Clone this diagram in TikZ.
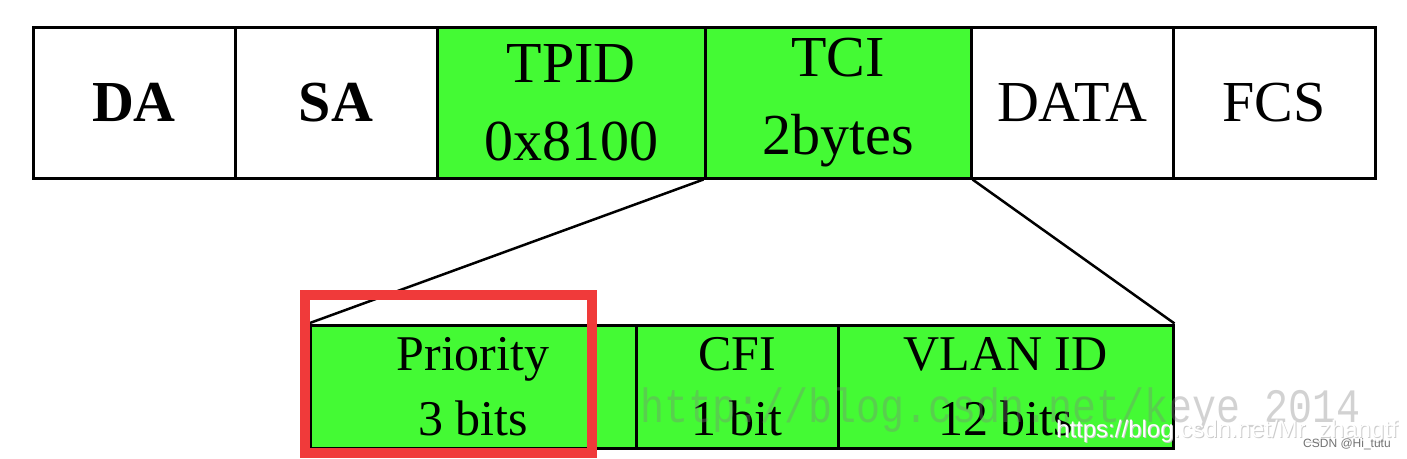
\documentclass[tikz,border=0pt]{standalone}
\usepackage{fontspec}
\setmainfont{Liberation Serif}
\newfontfamily\wmmono{Liberation Mono}
\newfontfamily\wmsans{Liberation Sans}
\definecolor{fgreen}{RGB}{68,250,52}
\definecolor{fred}{RGB}{240,58,58}
\tikzset{
  topbox/.style={draw=black,line width=3pt,inner sep=0pt,minimum height=151pt,align=center,font=\fontsize{58}{78}\selectfont},
  botbox/.style={draw=black,line width=3pt,inner sep=0pt,minimum height=123pt,align=center,fill=fgreen,font=\fontsize{50}{65}\selectfont},
  link/.style={draw=black,line width=2.5pt},
  hl/.style={draw=fred,line width=10pt},
}
\begin{document}
\begin{tikzpicture}[x=1pt,y=-1pt]
\useasboundingbox[fill=white] (0,0) rectangle (1407,458);
\node[topbox,minimum width=202pt] (da) at (134,102.5) {\bfseries DA};
\node[topbox,minimum width=202pt] (sa) at (336,102.5) {\bfseries SA};
\node[topbox,minimum width=268pt,fill=fgreen] (tpid) at (571,102.5) {TPID\\0x8100};
\node[topbox,minimum width=266pt,fill=fgreen] (tci) at (838,102.5) {TCI\\2bytes};
\node[topbox,minimum width=202pt] (data) at (1072,102.5) {DATA};
\node[topbox,minimum width=202pt] (fcs) at (1274,102.5) {FCS};
\node[botbox,minimum width=326pt] (pri) at (473,386.5) {Priority\\3 bits};
\node[botbox,minimum width=202pt] (cfi) at (737,386.5) {CFI\\1 bit};
\node[botbox,minimum width=335pt] (vlan) at (1005.5,386.5) {VLAN ID\\12 bits};
\draw[link] (tci.south west) -- (pri.north west);
\draw[link] (tci.south east) -- (vlan.north east);
\draw[hl] (305,295) rectangle (592,453);
\node[anchor=base west,inner sep=0pt,text=gray,opacity=0.35,yscale=1.2,font=\wmmono\fontsize{40}{40}\selectfont] (wm1) at (640,422) {http://blog.csdn.net/keye\_2014};
\node[anchor=base west,inner sep=0pt,text=black!20,font=\wmsans\fontsize{24}{24}\selectfont] (wm2s) at (1057,438) {https://blog.csdn.net/Mr\_zhangtf};
\node[anchor=base west,inner sep=0pt,text=white,font=\wmsans\fontsize{24}{24}\selectfont] (wm2) at (1056,437) {https://blog.csdn.net/Mr\_zhangtf};
\node[anchor=base west,inner sep=0pt,text=black!55,font=\wmsans\fontsize{12}{12}\selectfont] (wm3) at (1303,447) {CSDN @Hi\_tutu};
\end{tikzpicture}
\end{document}
